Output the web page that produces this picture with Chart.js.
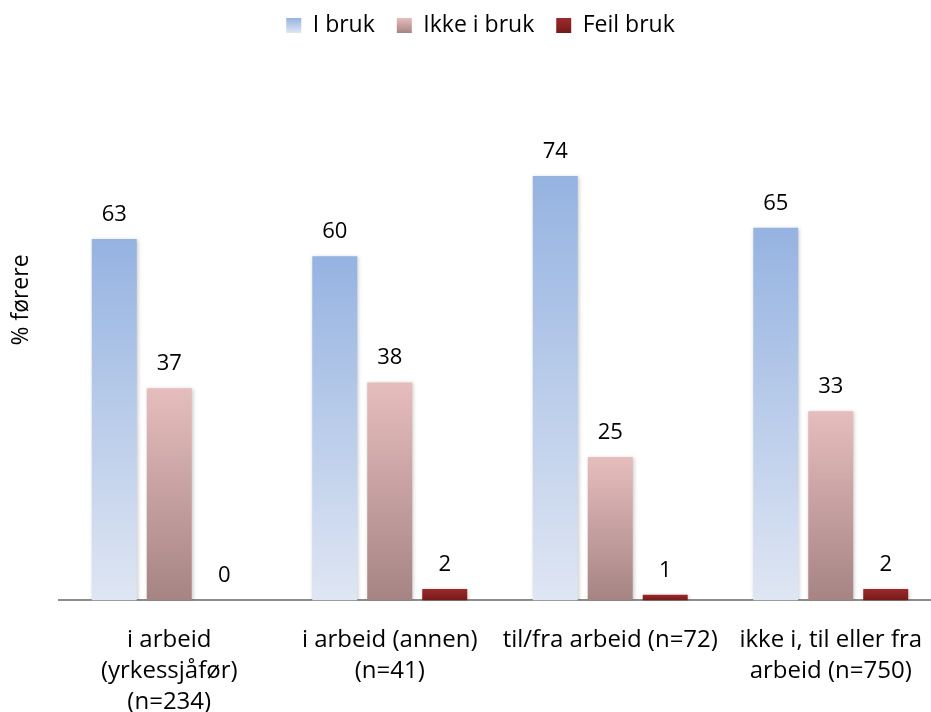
<!DOCTYPE html>
<html>
<head>
<meta charset="utf-8">
<script src="https://cdn.jsdelivr.net/npm/chart.js@4"></script>
<style>
  html, body { margin: 0; padding: 0; background: #fff; overflow: hidden; }
  #wrap { width: 931px; height: 712px; overflow: hidden; }
</style>
</head>
<body>
<div id="wrap"><canvas id="chart" width="941" height="712"></canvas></div>
<script>
const categories = [
  ['i arbeid', '(yrkessjåfør)', '(n=234)'],
  ['i arbeid (annen)', '(n=41)'],
  ['til/fra arbeid (n=72)'],
  ['ikke i, til eller fra', 'arbeid (n=750)']
];
const seriesNames = ['I bruk', 'Ikke i bruk', 'Feil bruk'];
const iBruk = [63, 60, 74, 65];
const ikkeIBruk = [37, 38, 25, 33];
const feilBruk = [0, 2, 1, 2];
const yTitle = '% førere';

// top / bottom colour of each series gradient
const gradStops = [
  ['#95b3e1', '#dfe6f3'],
  ['#e6bdbd', '#a68484'],
  ['#9e2a2a', '#731a1a']
];
const FONT = '"Open Sans", Lato, sans-serif';

function barGradient(idx) {
  return function(ctx) {
    const chart = ctx.chart;
    if (!chart.chartArea || ctx.type !== 'data') return gradStops[idx][0];
    const y = chart.scales.y;
    const top = y.getPixelForValue(ctx.raw);
    const base = y.getPixelForValue(0);
    if (!isFinite(top) || base - top < 1) return gradStops[idx][0];
    const g = chart.ctx.createLinearGradient(0, top, 0, base);
    g.addColorStop(0, gradStops[idx][0]);
    g.addColorStop(1, gradStops[idx][1]);
    return g;
  };
}

// soft shadow behind the bars
const barShadow = {
  id: 'barShadow',
  beforeDatasetsDraw(chart) {
    const c = chart.ctx;
    c.save();
    c.shadowColor = 'rgba(0,0,0,0.22)';
    c.shadowBlur = 4;
    c.shadowOffsetX = 1;
    c.shadowOffsetY = 1;
  },
  afterDatasetsDraw(chart) {
    chart.ctx.restore();
  }
};

const valueLabels = {
  id: 'valueLabels',
  afterDatasetsDraw(chart) {
    const c = chart.ctx;
    c.save();
    c.font = '22px ' + FONT;
    c.fillStyle = '#000';
    c.textAlign = 'center';
    c.textBaseline = 'alphabetic';
    chart.data.datasets.forEach((ds, i) => {
      chart.getDatasetMeta(i).data.forEach((bar, j) => {
        c.fillText(String(ds.data[j]), bar.x, bar.y - 18);
      });
    });
    c.restore();
  }
};

// rotated y axis title, placed like the original
const axisTitle = {
  id: 'axisTitle',
  afterDraw(chart) {
    const c = chart.ctx;
    c.save();
    c.translate(21, 300);
    c.rotate(-Math.PI / 2);
    c.font = '23px ' + FONT;
    c.fillStyle = '#000';
    c.textAlign = 'center';
    c.textBaseline = 'middle';
    c.fillText(yTitle, 0, 0);
    c.restore();
  }
};

// legend swatches get the same vertical gradient as the bars
const legendGradient = {
  id: 'legendGradient',
  beforeDraw(chart) {
    const lg = chart.legend;
    if (!lg || !lg.legendHitBoxes || !lg.legendItems) return;
    lg.legendItems.forEach((item, i) => {
      const hb = lg.legendHitBoxes[i];
      if (!hb) return;
      const y0 = hb.top + (hb.height - 15) / 2;
      const g = chart.ctx.createLinearGradient(0, y0, 0, y0 + 15);
      g.addColorStop(0, gradStops[i][0]);
      g.addColorStop(1, gradStops[i][1]);
      item.fillStyle = g;
    });
  }
};

const ctx = document.getElementById('chart').getContext('2d');
new Chart(ctx, {
  type: 'bar',
  data: {
    labels: categories,
    datasets: [
      { label: seriesNames[0], data: iBruk, backgroundColor: barGradient(0) },
      { label: seriesNames[1], data: ikkeIBruk, backgroundColor: barGradient(1) },
      { label: seriesNames[2], data: feilBruk, backgroundColor: barGradient(2) }
    ]
  },
  options: {
    responsive: false,
    animation: false,
    layout: { padding: { top: -8, left: 20, right: 0, bottom: -22 } },
    datasets: {
      bar: { categoryPercentage: 0.748, barPercentage: 0.818 }
    },
    plugins: {
      legend: {
        position: 'top',
        labels: {
          color: '#000',
          font: { family: FONT, size: 23 },
          boxWidth: 15,
          boxHeight: 15,
          padding: 22,
          generateLabels(chart) {
            return seriesNames.map((name, i) => ({
              text: name, fillStyle: gradStops[i][0], strokeStyle: 'rgba(0,0,0,0)',
              lineWidth: 0, datasetIndex: i, hidden: false, fontColor: '#000'
            }));
          }
        }
      },
      tooltip: { enabled: false }
    },
    scales: {
      x: {
        grid: { display: false },
        border: { display: true, color: '#8c8c8c', width: 2 },
        ticks: {
          color: '#000',
          font: { family: FONT, size: 24, lineHeight: 1.3 },
          maxRotation: 0,
          autoSkip: false,
          padding: 16
        }
      },
      y: {
        min: 0,
        max: 96.5,
        grid: { display: false },
        border: { display: false },
        ticks: { display: false },
        afterFit(scale) { scale.width = 39; }
      }
    }
  },
  plugins: [legendGradient, barShadow, valueLabels, axisTitle]
});
</script>
</body>
</html>
